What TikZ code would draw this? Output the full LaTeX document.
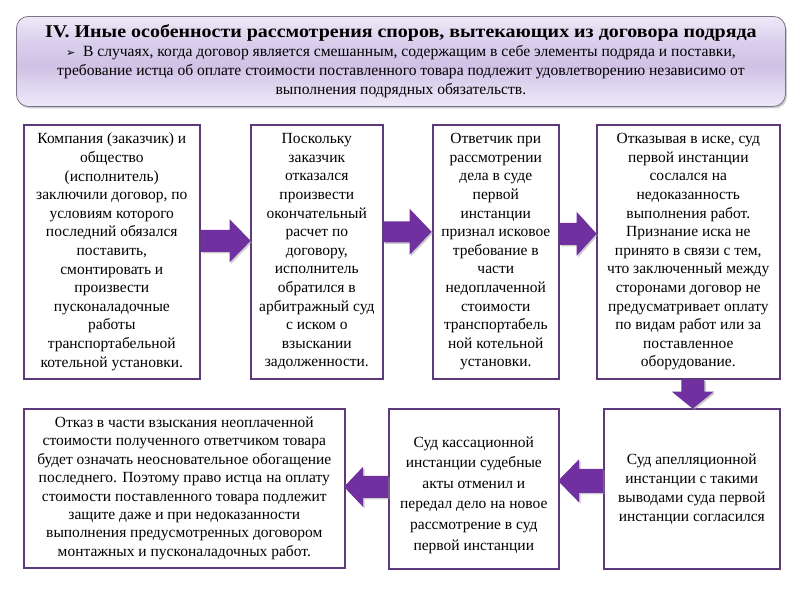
\documentclass[tikz,border=0pt]{standalone}
\usepackage{fontspec}
\setmainfont{Liberation Serif}
\newfontfamily\dejavu{DejaVu Sans}
\newfontfamily\titlefont[FakeStretch=1.11]{Liberation Serif}
\usetikzlibrary{shadows,calc}
\definecolor{boxline}{RGB}{94,58,125}
\definecolor{arrowfill}{RGB}{112,48,160}
\definecolor{hdrline}{RGB}{125,115,135}
\definecolor{hA}{RGB}{238,234,248}
\definecolor{hB}{RGB}{226,218,242}
\definecolor{hC}{RGB}{207,194,229}
\definecolor{hD}{RGB}{216,206,236}
\definecolor{hE}{RGB}{238,234,247}
\pgfdeclareverticalshading{hdrshade}{100bp}{color(0bp)=(hA); color(25bp)=(hA); color(34bp)=(hB); color(47bp)=(hC); color(60bp)=(hD); color(75bp)=(hE); color(100bp)=(hE)}
% horizontal block arrow: #1 start, #2 direction (1 right, -1 left), #3 shaft length,
% #4 head length, #5 shaft half width, #6 head half width
\newcommand{\harrowx}[6]{%
  \fill[blockarrow] (#1) ++(0,-#5) -- ++({#2*#3},0) -- ++(0,{#5-#6})
    -- ++({#2*#4},#6) -- ++({-#2*#4},#6) -- ++(0,{#5-#6}) -- ++({-#2*#3},0) -- cycle;}
% downward block arrow: #1 start, #2 shaft length, #3 head length, #4 shaft half, #5 head half
\newcommand{\varrowx}[5]{%
  \fill[blockarrow] (#1) ++(-#4,0) -- ++(0,#2) -- ++({#4-#5},0)
    -- ++(#5,#3) -- ++(#5,-#3) -- ++({#4-#5},0) -- ++(0,-#2) -- cycle;}
\begin{document}
\begin{tikzpicture}[x=1pt,y=-1pt,
  box/.style={draw=boxline, line width=1.6pt, fill=white, inner sep=0pt,
    align=center, anchor=north west, font=\fontsize{15.5}{18.6}\selectfont,
    drop shadow={shadow xshift=1.5pt, shadow yshift=-1.5pt, fill=black!30, opacity=0.5}},
  blockarrow/.style={fill=arrowfill,
    drop shadow={shadow xshift=1.5pt, shadow yshift=-1.5pt, fill=black!40, opacity=0.5}},
  header/.style={draw=hdrline, line width=0.8pt, rounded corners=12pt,
    shading=hdrshade, anchor=north west, inner sep=0pt, align=center,
    font=\fontsize{15.6}{19}\selectfont,
    drop shadow={shadow xshift=1.5pt, shadow yshift=-2pt, fill=black!40, opacity=0.5}}
]
\useasboundingbox (0,0) rectangle (800,600);

% header
\node[header, minimum width=769pt, minimum height=90pt] (hdr) at (16,16)
  {{\titlefont\bfseries\fontsize{18}{19}\selectfont IV. Иные особенности рассмотрения споров, вытекающих из договора подряда}\\
   {\dejavu\fontsize{11}{19}\selectfont ➢}\ \ В случаях, когда договор является смешанным, содержащим в себе элементы подряда и поставки,\\
   требование истца об оплате стоимости поставленного товара подлежит удовлетворению независимо от\\
   выполнения подрядных обязательств.};

% top row
\node[box, minimum width=176pt, minimum height=254pt] (b1) at (23,124)
  {Компания (заказчик) и\\общество\\(исполнитель)\\заключили договор, по\\условиям которого\\последний обязался\\поставить,\\смонтировать и\\произвести\\пусконаладочные\\работы\\транспортабельной\\котельной установки.};
\node[box, minimum width=132pt, minimum height=254pt] (b2) at (250,124)
  {Поскольку\\заказчик\\отказался\\произвести\\окончательный\\расчет по\\договору,\\исполнитель\\обратился в\\арбитражный суд\\с иском о\\взыскании\\задолженности.};
\node[box, minimum width=126pt, minimum height=254pt] (b3) at (432,124)
  {Ответчик при\\рассмотрении\\дела в суде\\первой\\инстанции\\признал исковое\\требование в\\части\\недоплаченной\\стоимости\\транспортабель\\ной котельной\\установки.};
\node[box, minimum width=183pt, minimum height=254pt] (b4) at (596,124)
  {Отказывая в иске, суд\\первой инстанции\\сослался на\\недоказанность\\выполнения работ.\\Признание иска не\\принято в связи с тем,\\что заключенный между\\сторонами договор не\\предусматривает оплату\\по видам работ или за\\поставленное\\оборудование.};

% bottom row
\node[box, minimum width=321pt, minimum height=159pt, font=\fontsize{15.5}{18.4}\selectfont] (b5) at (23,408)
  {Отказ в части взыскания неоплаченной\\стоимости полученного ответчиком товара\\будет означать неосновательное обогащение\\последнего. Поэтому право истца на оплату\\стоимости поставленного товара подлежит\\защите даже и при недоказанности\\выполнения предусмотренных договором\\монтажных и пусконаладочных работ.};
\node[box, minimum width=170pt, minimum height=160pt, font=\fontsize{15.5}{20.6}\selectfont] (b6) at (388,408)
  {\rule{0pt}{23pt}Суд кассационной\\инстанции судебные\\акты отменил и\\передал дело на новое\\рассмотрение в суд\\первой инстанции};
\node[box, minimum width=176pt, minimum height=160pt, font=\fontsize{15.5}{19}\selectfont] (b7) at (603,408)
  {\rule{0pt}{12pt}Суд апелляционной\\инстанции с такими\\выводами суда первой\\инстанции согласился};

% block arrows between the boxes
\coordinate (s1) at ([yshift=11pt]b1.east);
\coordinate (s2) at ([yshift=20pt]b2.east);
\coordinate (s3) at ([yshift=18pt]b3.east);
\coordinate (s4) at ([xshift=4.5pt]b4.south);
\coordinate (s5) at ([yshift=8pt]b7.west);
\coordinate (s6) at ([yshift=2pt]b6.west);
\harrowx{s1}{1}{29}{21}{11}{21.5}
\harrowx{s2}{1}{26}{22}{10.5}{23}
\harrowx{s3}{1}{17}{20}{11}{22}
\varrowx{s4}{12}{17}{11.5}{21}
\harrowx{s5}{-1}{24}{21}{12}{21.5}
\harrowx{s6}{-1}{25}{19}{11}{20}
\end{tikzpicture}
\end{document}
